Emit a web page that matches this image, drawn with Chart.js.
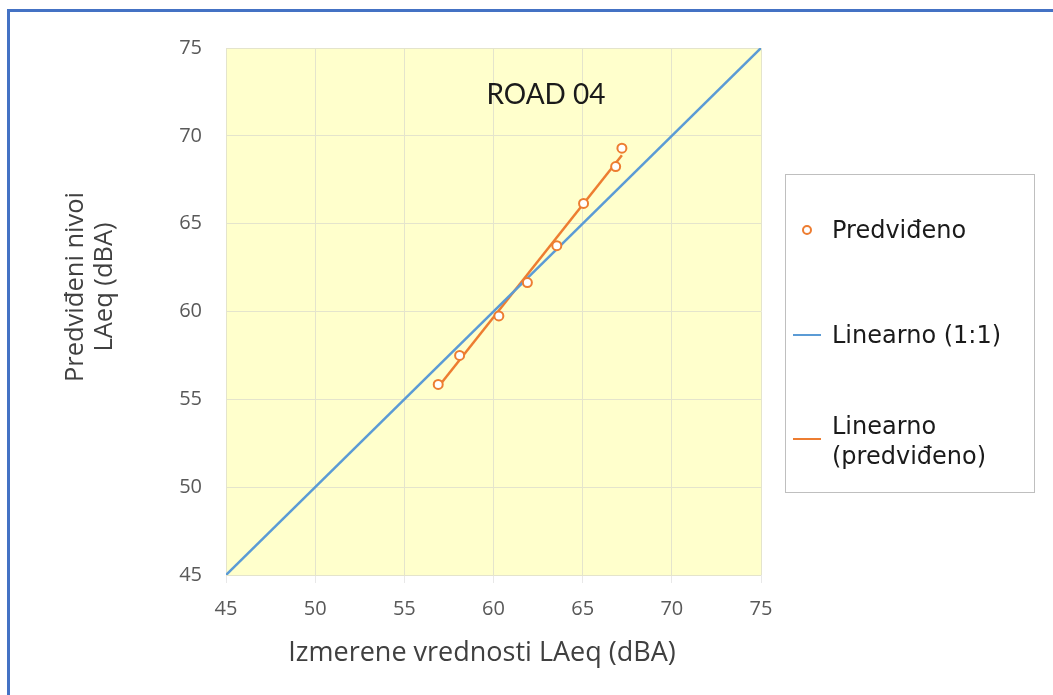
<!DOCTYPE html>
<html>
<head>
<meta charset="utf-8">
<script src="https://cdn.jsdelivr.net/npm/chart.js@4.4.0/dist/chart.umd.min.js"></script>
<style>
    html, body { margin: 0; padding: 0; background: #fff; }
    #wrap { position: relative; width: 1053px; height: 695px; overflow: hidden; }
    #frame { position: absolute; left: 7px; top: 9px; width: 1100px; height: 800px;
        border-left: 3px solid #4472c4; border-top: 3px solid #4472c4; }
    #title { position: absolute; left: 446px; top: 74px; width: 200px; text-align: center;
        font-family: Lato, sans-serif; font-size: 28px; color: #1a1a1a; line-height: 38px; }
    .ytitle { position: absolute; width: 240px; height: 30px; line-height: 30px; text-align: center;
        font-family: "Open Sans", sans-serif; font-size: 25.5px; color: #404040; transform: rotate(-90deg); }
    #xtitle { position: absolute; left: 232px; top: 634px; width: 500px; line-height: 34px; text-align: center;
        font-family: "Open Sans", sans-serif; font-size: 27px; color: #404040; }
    #legend { position: absolute; left: 785px; top: 174px; width: 248px; height: 317px;
        border: 1.5px solid #bfbfbf; font-family: "DejaVu Sans", sans-serif; font-size: 24px; color: #1a1a1a; }
    .item { position: absolute; left: 46px; line-height: 30px; white-space: nowrap; }
    .dot { position: absolute; left: 16px; width: 6px; height: 6px; border: 2px solid #ed7d31; border-radius: 50%; }
    .ln { position: absolute; left: 7px; width: 28px; height: 2px; }
</style>
</head>
<body>
<div id="wrap">
    <canvas id="scatterChart" width="1053" height="695"></canvas>
    <div id="frame"></div>
    <div id="title">ROAD 04</div>
    <div class="ytitle" style="left:-47px; top:272px">Predviđeni nivoi</div>
    <div class="ytitle" style="left:-18px; top:272px">LAeq (dBA)</div>
    <div id="xtitle">Izmerene vrednosti LAeq (dBA)</div>
    <div id="legend">
        <div class="dot" style="top:50px"></div>
        <div class="item" style="top:40px">Predviđeno</div>
        <div class="ln" style="top:159px; background:#5b9bd5"></div>
        <div class="item" style="top:145px">Linearno (1:1)</div>
        <div class="ln" style="top:263px; background:#ed7d31"></div>
        <div class="item" style="top:236px">Linearno<br>(predviđeno)</div>
    </div>
</div>
<script>
"use strict";
// measured vs predicted LAeq (dBA)
var measured  = [56.9, 58.1, 60.3, 61.9, 63.55, 65.05, 66.85, 67.2];
var predicted = [55.85, 57.5, 59.75, 61.65, 63.75, 66.15, 68.25, 69.3];
// 1:1 reference line ends
var refX = [45, 75];
var refY = [45, 75];
// trend line ends
var trendX = [56.9, 67.2];
var trendY = [55.7, 68.9];
var axisMin = 45, axisMax = 75, axisStep = 5;

function toPoints(xs, ys) {
    return xs.map(function(x, i) { return { x: x, y: ys[i] }; });
}

/*plot area background*/
var plotBg = {
    id: 'plotBg',
    beforeDraw: function(chart) {
        var a = chart.chartArea, ctx = chart.ctx;
        ctx.save();
        ctx.fillStyle = '#ffffcc';
        ctx.fillRect(a.left, a.top, a.right - a.left, a.bottom - a.top);
        ctx.restore();
    }
};

var tickFont = { family: "'Open Sans', sans-serif", size: 20 };

var ctx = document.getElementById("scatterChart").getContext('2d');
var myChart = new Chart(ctx, {
    type: 'scatter',
    data: {
        datasets: [{
            label: 'Predviđeno',
            data: toPoints(measured, predicted),
            borderColor: '#ed7d31',
            backgroundColor: '#ffffff',
            borderWidth: 2,
            pointRadius: 4.5
        }, {
            label: 'Linearno (1:1)',
            data: toPoints(refX, refY),
            showLine: true,
            borderColor: '#5b9bd5',
            borderWidth: 2.5,
            pointRadius: 0
        }, {
            label: 'Linearno (predviđeno)',
            data: toPoints(trendX, trendY),
            showLine: true,
            borderColor: '#ed7d31',
            borderWidth: 2.5,
            pointRadius: 0
        }]
    },
    options: {
        responsive: false,
        animation: false,
        layout: { padding: { top: 48, right: 292, bottom: 0, left: 0 } },
        plugins: {
            legend: { display: false },
            tooltip: { enabled: false }
        },
        scales: {
            x: {
                min: axisMin, max: axisMax,
                ticks: { stepSize: axisStep, color: '#595959', font: tickFont, padding: 14 },
                grid: { color: '#e4e4cc', tickLength: 8, tickColor: '#e8e8e8' },
                border: { display: false },
                afterFit: function(scale) { scale.height = 120; }
            },
            y: {
                min: axisMin, max: axisMax,
                ticks: { stepSize: axisStep, color: '#595959', font: tickFont, padding: 24 },
                grid: { color: '#e4e4cc', drawTicks: false },
                border: { display: false },
                afterFit: function(scale) { scale.width = 226; }
            }
        }
    },
    plugins: [plotBg]
});
</script>
</body>
</html>
